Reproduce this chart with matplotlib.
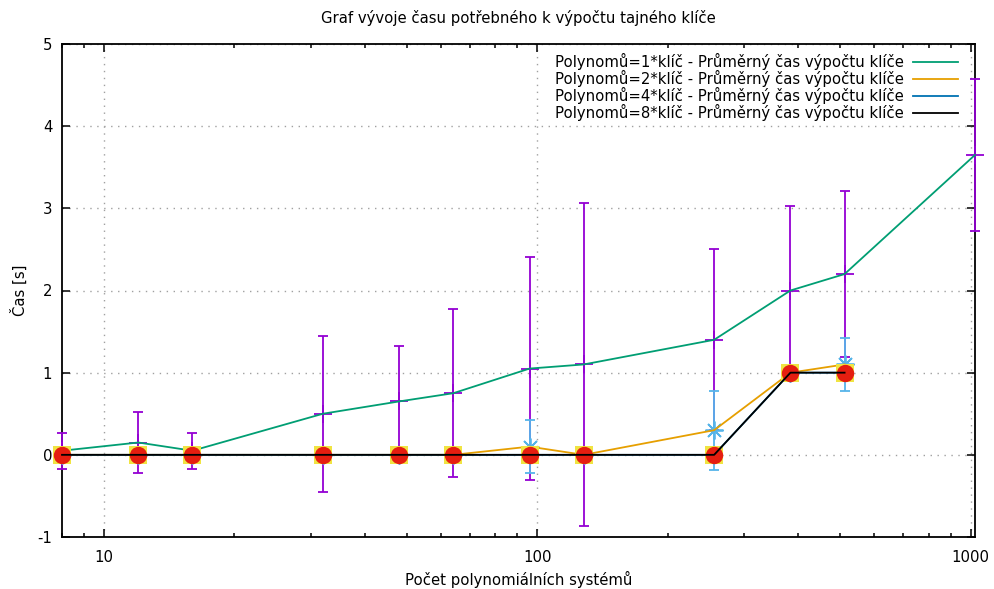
import numpy as np
import matplotlib
matplotlib.use("Agg")
from matplotlib import pyplot as plt
from matplotlib.ticker import FixedLocator, LogLocator, NullFormatter

plt.rcParams['font.family'] = ['DejaVu Sans']
plt.rcParams['axes.unicode_minus'] = False

# pocet systemu a namerene casy (prumer, smerodatna odchylka)
x1 = [8, 12, 16, 32, 48, 64, 96, 128, 256, 384, 512, 1024]
t1 = [0.05, 0.15, 0.05, 0.5, 0.65, 0.75, 1.05, 1.1, 1.4, 2.0, 2.2, 3.65]
e1 = [0.22, 0.37, 0.22, 0.95, 0.67, 1.02, 1.36, 1.97, 1.1, 1.03, 1.01, 0.93]

x2 = [8, 12, 16, 32, 48, 64, 96, 128, 256, 384, 512]
t2 = [0, 0, 0, 0, 0, 0, 0.1, 0, 0.3, 1.0, 1.1]
e2 = [0, 0, 0, 0, 0, 0, 0.32, 0, 0.48, 0, 0.32]

x4 = [8, 12, 16, 32, 48, 64, 96, 128, 256, 384, 512]
t4 = [0, 0, 0, 0, 0, 0, 0, 0, 0, 1.0, 1.0]
e4 = [0, 0, 0, 0, 0, 0, 0, 0, 0, 0, 0]

x8 = [8, 12, 16, 32, 48, 64, 96, 128, 256, 384, 512]
t8 = [0, 0, 0, 0, 0, 0, 0, 0, 0, 1.0, 1.0]
e8 = [0, 0, 0, 0, 0, 0, 0, 0, 0, 0, 0]

labels = ["Polynomů=1*klíč - Průměrný čas výpočtu klíče",
          "Polynomů=2*klíč - Průměrný čas výpočtu klíče",
          "Polynomů=4*klíč - Průměrný čas výpočtu klíče",
          "Polynomů=8*klíč - Průměrný čas výpočtu klíče"]

# barvy a body jako v gnuplotu (chybove usecky, pak cara)
err_colors = ['#9400d3', '#56b4e9', '#f0e442', '#e51e10']
err_markers = ['+', (8, 2, 0), 's', 'o']
err_msize = [13, 13, 13, 12.5]
line_colors = ['#009e73', '#e69f00', '#0072b2', '#000000']

fs = 10.7

fig = plt.figure(figsize=(9.94, 5.89), dpi=100)
ax = fig.add_axes([62 / 994, 1 - 537 / 589, (975 - 62) / 994, (537 - 44) / 589])

series = [(x1, t1, e1), (x2, t2, e2), (x4, t4, e4), (x8, t8, e8)]
z = 3
for i, (x, t, e) in enumerate(series):
    ax.errorbar(x, t, yerr=e, fmt='none', ecolor=err_colors[i], elinewidth=1.3,
                capsize=3.5, capthick=1.3, zorder=z, clip_on=False)
    ax.plot(x, t, linestyle='none', marker=err_markers[i], markersize=err_msize[i],
            color=err_colors[i], markeredgewidth=1.3 if i < 2 else 0,
            zorder=z + 0.5, clip_on=False)
    ax.plot(x, t, color=line_colors[i], linewidth=1.3, label=labels[i],
            zorder=z + 1, clip_on=False)
    z += 2

ax.set_xscale('log')
ax.set_xlim(8, 1024)
ax.set_ylim(-1, 5)
ax.xaxis.set_major_locator(FixedLocator([10, 100, 1000]))
ax.set_xticklabels(['10', '100', '1000'])
ax.xaxis.set_minor_locator(LogLocator(base=10, subs=np.arange(2, 10)))
ax.xaxis.set_minor_formatter(NullFormatter())
ax.set_yticks([-1, 0, 1, 2, 3, 4, 5])
ax.set_yticklabels(['-1', '0', '1', '2', '3', '4', '5'])

ax.tick_params(which='both', direction='in', top=True, right=True, labelsize=fs,
               width=1.1)
ax.tick_params(axis='x', pad=9)
ax.tick_params(axis='y', pad=7)
ax.tick_params(which='major', length=6)
ax.tick_params(which='minor', length=3)
for s in ax.spines.values():
    s.set_linewidth(1.3)

ax.grid(True, which='major', color='#a0a0a0', linestyle=(0, (1, 4)), linewidth=1)

ax.set_title("Graf vývoje času potřebného k výpočtu tajného klíče", fontsize=fs, pad=15)
ax.set_xlabel("Počet polynomiálních systémů", fontsize=fs, labelpad=5)
ax.set_ylabel("Čas [s]", fontsize=fs, labelpad=7)

leg = ax.legend(loc='upper right', bbox_to_anchor=(0.981, 0.982), frameon=False,
                markerfirst=False, fontsize=fs, handlelength=3.0, handletextpad=0.65,
                labelspacing=0.0, borderaxespad=0, borderpad=0)
leg.set_zorder(20)

fig.savefig("out.png", dpi=100)
